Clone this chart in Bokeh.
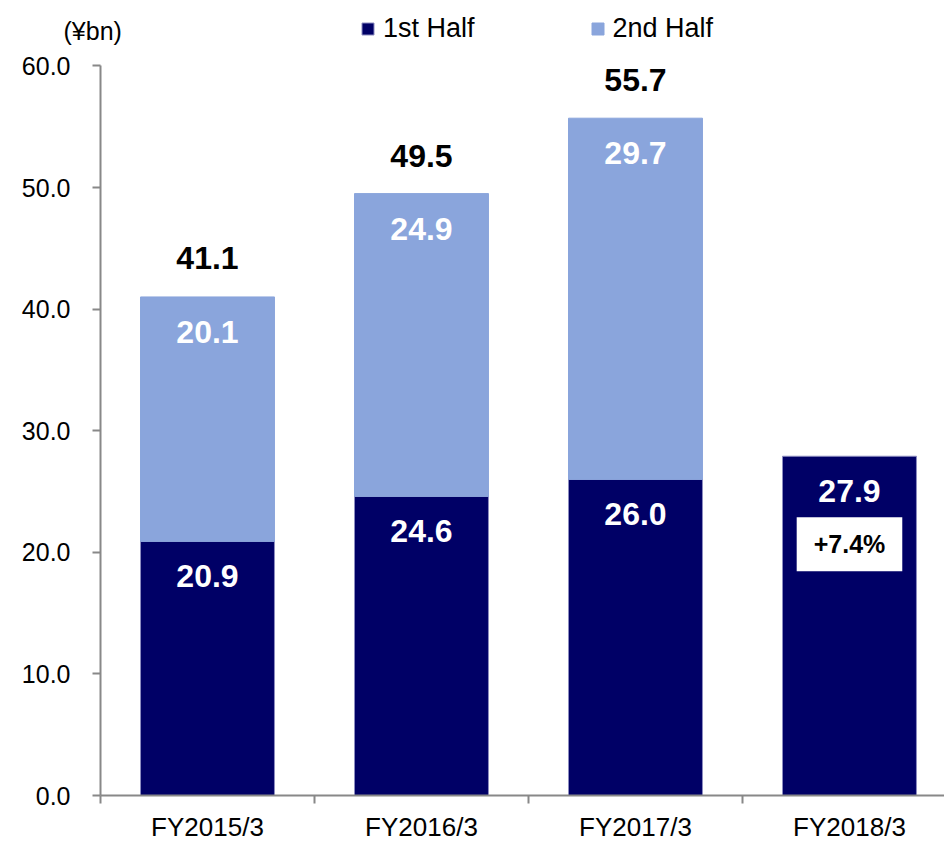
from bokeh.plotting import figure
from bokeh.models import Range1d, FixedTicker, NumeralTickFormatter, Label, ColumnDataSource
from bokeh.core.properties import value
from bokeh.embed import file_html
from bokeh.resources import INLINE

categories = ["FY2015/3", "FY2016/3", "FY2017/3", "FY2018/3"]
first_half = [20.9, 24.6, 26.0, 27.9]
second_half = [20.1, 24.9, 29.7]
totals = [41.1, 49.5, 55.7]
growth_label = "+7.4%"
y_ticks = [0, 10, 20, 30, 40, 50, 60]
unit_label = "(¥bn)"

DARK = "#000066"
LIGHT = "#8aa5dc"
FONT = "Liberation Sans"

xs = list(range(len(categories)))
xs2 = xs[:len(second_half)]
bottoms2 = first_half[:len(second_half)]
tops2 = [b + s for b, s in zip(bottoms2, second_half)]

PX_PER_X = 214.0
PX_PER_Y = 12.16
X_START = -0.5 - 100 / PX_PER_X
X_END = 3.444
Y_START = -(841 - 795) / PX_PER_Y
Y_END = 795 / PX_PER_Y

p = figure(width=944, height=841, x_range=Range1d(X_START, X_END), y_range=Range1d(Y_START, Y_END),
           output_backend="svg", toolbar_location=None,
           min_border_left=0, min_border_right=0, min_border_top=0, min_border_bottom=0)
p.outline_line_color = None
p.xgrid.visible = False
p.ygrid.visible = False

src1 = ColumnDataSource(dict(x=xs, top=first_half, lab=[f"{v:.1f}" for v in first_half]))
src2 = ColumnDataSource(dict(x=xs2, bottom=bottoms2, top=tops2, lab=[f"{v:.1f}" for v in second_half]))
src3 = ColumnDataSource(dict(x=xs2, y=totals, lab=[f"{v:.1f}" for v in totals]))

p.vbar(x="x", top="top", bottom=0, width=0.626, source=src1, fill_color=DARK,
       line_color="#8c8cc0", line_width=1, legend_label="1st Half")
p.vbar(x="x", top="top", bottom="bottom", width=0.626, source=src2, fill_color=LIGHT,
       line_color=LIGHT, line_width=1, legend_label="2nd Half")

p.text(x="x", y="top", text="lab", source=src1, text_color="white", text_font=value(FONT),
       text_font_style="bold", text_font_size="32px", text_align="center",
       text_baseline="middle", y_offset=35)
p.text(x="x", y="top", text="lab", source=src2, text_color="white", text_font=value(FONT),
       text_font_style="bold", text_font_size="32px", text_align="center",
       text_baseline="middle", y_offset=35)
p.text(x="x", y="y", text="lab", source=src3, text_color="black", text_font=value(FONT),
       text_font_style="bold", text_font_size="32px", text_align="center",
       text_baseline="middle", y_offset=-38)

p.add_layout(Label(x=xs[3], y=first_half[3], y_offset=-88, text=growth_label,
                   text_font=FONT, text_font_style="bold", text_font_size="25px",
                   text_align="center", text_baseline="middle", text_color="black",
                   background_fill_color="white", padding=dict(left=17, right=17, top=13, bottom=13)))

p.add_layout(Label(x=63, y=811, x_units="screen", y_units="screen", text=unit_label,
                   text_font=FONT, text_font_size="25px", text_align="left",
                   text_baseline="middle", text_color="black"))

# axes
xa = p.xaxis[0]
xa.fixed_location = 0
xa.bounds = (-0.5, X_END)
xa.ticker = FixedTicker(ticks=xs, minor_ticks=[-0.5, 0.5, 1.5, 2.5])
xa.major_label_overrides = {i: c for i, c in enumerate(categories)}
xa.major_tick_out = 0
xa.major_tick_in = 0
xa.minor_tick_out = 8
xa.minor_tick_in = 0
xa.axis_line_color = "#888888"
xa.axis_line_width = 2
xa.minor_tick_line_color = "#888888"
xa.minor_tick_line_width = 2
xa.major_label_text_font = FONT
xa.major_label_text_font_size = "26px"
xa.major_label_text_color = "black"
xa.major_label_standoff = 8

ya = p.yaxis[0]
ya.fixed_location = -0.5
ya.ticker = FixedTicker(ticks=y_ticks, minor_ticks=[])
ya.formatter = NumeralTickFormatter(format="0.0")
ya.bounds = (0, 60)
ya.major_tick_out = 8
ya.major_tick_in = 0
ya.axis_line_color = "#888888"
ya.axis_line_width = 2
ya.major_tick_line_color = "#888888"
ya.major_tick_line_width = 2
ya.major_label_text_font = FONT
ya.major_label_text_font_size = "25px"
ya.major_label_text_color = "black"
ya.major_label_standoff = 22

lg = p.legend[0]
lg.orientation = "horizontal"
lg.location = (360, 797)
lg.padding = 0
lg.margin = 0
lg.spacing = 115
lg.glyph_width = 15
lg.glyph_height = 15
lg.label_standoff = 8
lg.label_text_font = FONT
lg.label_text_font_size = "27px"
lg.label_text_color = "black"
lg.border_line_color = None
lg.background_fill_alpha = 0

open("out.html", "w").write(file_html(p, INLINE))
